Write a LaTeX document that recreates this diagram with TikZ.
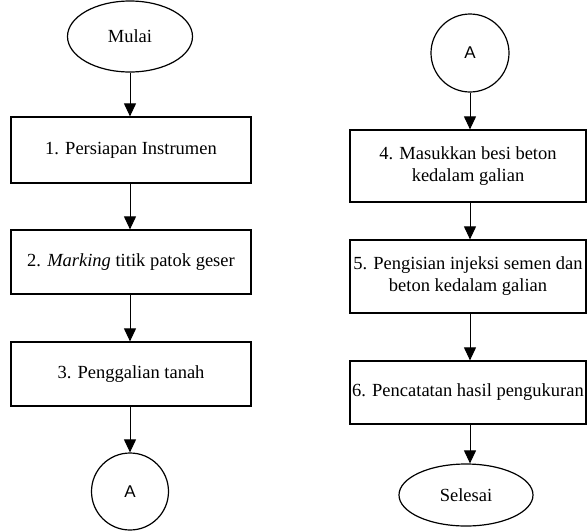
\documentclass[tikz,border=0pt]{standalone}
\usepackage{fontspec}
\setmainfont{Liberation Serif}
\newfontfamily\sansA{Liberation Sans}
\usetikzlibrary{arrows.meta,shapes.geometric}
\begin{document}
\begin{tikzpicture}[x=1pt,y=-1pt,
  procbox/.style={draw,line width=1.2pt,minimum width=240pt,minimum height=66pt,align=center,font=\fontsize{18.5}{22}\selectfont,inner sep=2pt},
  termnode/.style={draw,line width=1.2pt,ellipse,font=\fontsize{18.5}{22}\selectfont},
  connnode/.style={draw,line width=1.2pt,circle,minimum size=77pt,font=\sansA\fontsize{17}{20}\selectfont,inner sep=0pt},
  flow/.style={line width=1pt,-{Triangle[width=12pt,length=13pt]}}]
\useasboundingbox (0,0) rectangle (587,531);
% left column
\node[termnode,minimum width=125pt,minimum height=71pt] (mulai) at (130,36.5) {Mulai};
\node[procbox] (s1) at (131,150) {1. Persiapan Instrumen};
\node[procbox,minimum height=64pt] (s2) at (131,262) {2. \textit{Marking} titik patok geser};
\node[procbox,minimum height=64pt] (s3) at (131,374) {3. Penggalian tanah};
\node[connnode] (a1) at (130,491.5) {A};
% right column
\node[connnode,minimum size=78pt] (a2) at (470,53) {A};
\node[procbox,minimum width=236pt,minimum height=72pt] (s4) at (468,166) {4. Masukkan besi beton\\kedalam galian};
\node[procbox,minimum width=236pt,minimum height=73pt] (s5) at (468,276.5) {5. Pengisian injeksi semen dan\\beton kedalam galian};
\node[procbox,minimum width=236pt,minimum height=63pt] (s6) at (468,392.5) {6. Pencatatan hasil pengukuran};
\node[termnode,minimum width=134pt,minimum height=62pt] (selesai) at (466,495) {Selesai};
% connectors
\draw[flow] (mulai) -- (s1.north -| mulai);
\draw[flow] (s1.south -| mulai) -- (s2.north -| mulai);
\draw[flow] (s2.south -| mulai) -- (s3.north -| mulai);
\draw[flow] (s3.south -| mulai) -- (a1);
\draw[flow] (a2) -- (s4.north -| a2);
\draw[flow] (s4.south -| a2) -- (s5.north -| a2);
\draw[flow] (s5.south -| a2) -- (s6.north -| a2);
\draw[flow] (s6.south -| a2) -- (selesai.north -| a2);
\end{tikzpicture}
\end{document}
